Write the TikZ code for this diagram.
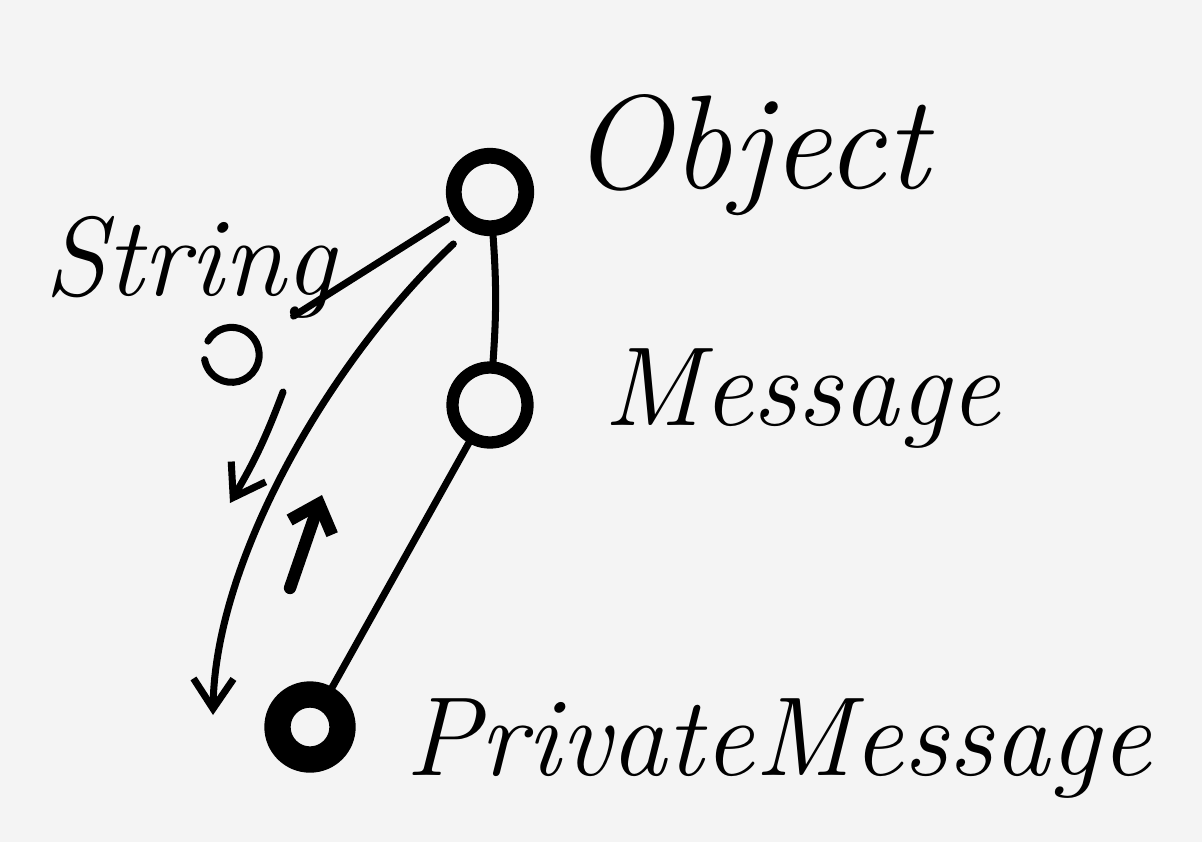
\documentclass[tikz,border=0pt]{standalone}
\usetikzlibrary{arrows.meta}
\definecolor{paper}{HTML}{F4F4F4}
\begin{document}
\begin{tikzpicture}[x=0.02cm,y=-0.02cm,>={Straight Barb[length=0.6cm,width=0.8cm]},
	pen/.style={line width=4pt,line cap=round},
	dot/.style={circle,draw,line width=6pt,minimum size=1.5cm},
	word/.style={font=\fontsize{64}{70}\selectfont\itshape,anchor=base}]
				\fill[paper] (0,0) rectangle (1202,842);
				\node[dot,line width=9pt,minimum size=1.45cm] (obj) at (490,192) {};
				\node[dot,line width=7pt] (msg) at (490,405) {};
				\node[dot,line width=15pt,minimum size=1.3cm] (pm) at (310,727) {};
				\node[circle,minimum size=1.1cm] (strobj) at (232,355) {};
				\coordinate (tipL) at (213,715);
				\coordinate (sa) at (283,392);
				\coordinate (sb) at (230,503);
				\coordinate (ua) at (290,588);
				\coordinate (ub) at (322,495);
				\draw[pen] (obj) to[bend left=4] (msg);
				\draw[pen] (msg) -- (pm);
				\draw[pen,shorten <=4pt,shorten >=0.9cm] (obj) -- (strobj);
				\draw[pen] (strobj.150) arc[start angle=150,end angle=-170,radius=0.55cm];
				\draw[pen,->,shorten <=0.4cm] (obj.240) .. controls (330,360) and (215,560) .. (tipL);
				\draw[pen,->] (sa) to[bend left=5] (sb);
				\draw[pen,line width=7pt,-{Straight Barb[length=0.5cm,width=0.9cm]}] (ua) -- (ub);
				\node[word,font=\fontsize{76}{80}\selectfont\itshape] (objlbl) at (750,188) {Object};
				\node[word] (strlbl) at (190,295) {String};
				\node[word] (msglbl) at (802,425) {Message};
				\node[word] (pmlbl) at (778,775) {PrivateMessage};
			\end{tikzpicture}
\end{document}
